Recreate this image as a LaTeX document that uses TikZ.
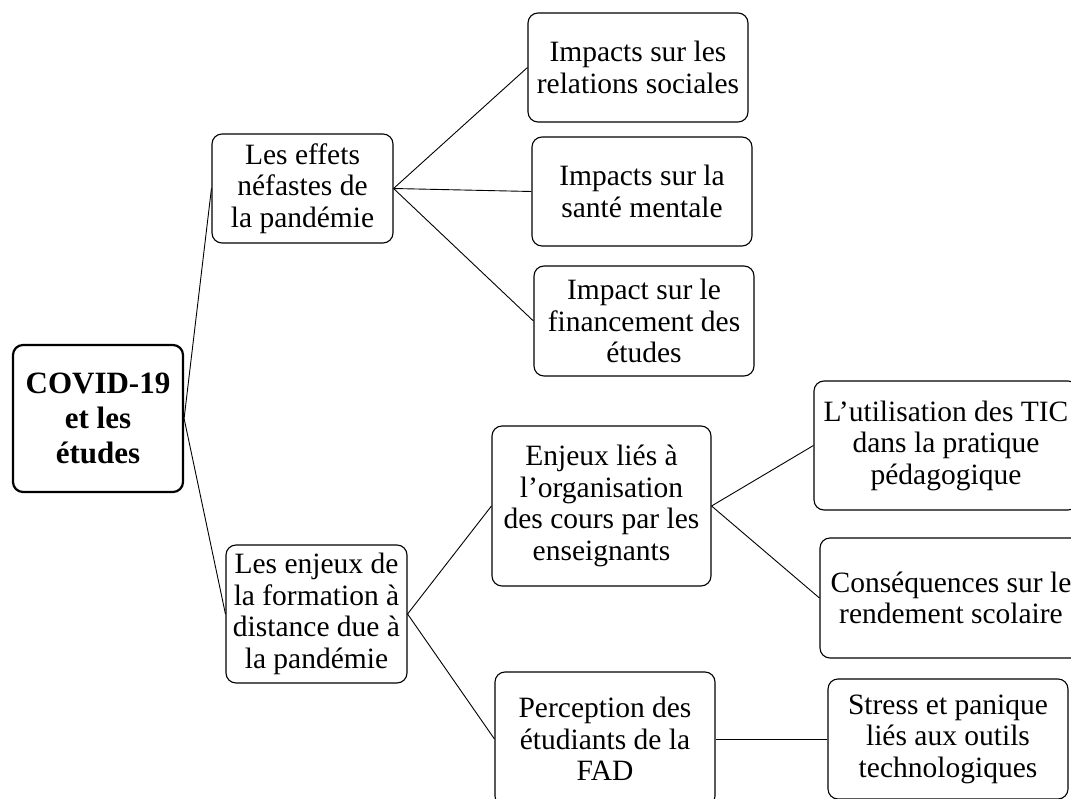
\documentclass[tikz,border=0pt]{standalone}
\usepackage{fontspec}
\setmainfont{Liberation Serif}
\begin{document}
\begin{tikzpicture}[x=1pt,y=-1pt,
  box/.style={draw, rounded corners=10pt, line width=1.1pt, align=center,
    inner sep=0pt, font=\fontsize{29.5}{31.5}\selectfont},
  rootbox/.style={box, line width=2.2pt, font=\fontsize{31}{35}\selectfont\bfseries},
  link/.style={line width=0.9pt}]
\useasboundingbox (0,0) rectangle (1071,799);
\clip (0,0) rectangle (1071,799);

% root of the tree
\node[rootbox, minimum width=170, minimum height=147] (root) at (98,418.5)
  {COVID-19\\et les\\études};

% first branch: harmful effects
\node[box, minimum width=181, minimum height=109] (effets) at (302.5,188.5)
  {Les effets\\néfastes de\\la pandémie};
\node[box, minimum width=220, minimum height=109] (relations) at (638,67.5)
  {Impacts sur les\\relations sociales};
\node[box, minimum width=220, minimum height=109] (sante) at (642,191.5)
  {Impacts sur la\\santé mentale};
\node[box, minimum width=220, minimum height=110] (finance) at (644,321)
  {Impact sur le\\financement des\\études};

% second branch: distance learning
\node[box, minimum width=181, minimum height=138] (enjeux) at (316.5,614)
  {Les enjeux de\\la formation à\\distance due à\\la pandémie};
\node[box, minimum width=219, minimum height=160] (orga) at (601.5,506)
  {Enjeux liés à\\l’organisation\\des cours par les\\enseignants};
\node[box, minimum width=220, minimum height=134] (perception) at (605,739)
  {Perception des\\étudiants de la\\FAD};
\node[box, minimum width=264, minimum height=129] (tic) at (946,445.5)
  {L’utilisation des TIC\\dans la pratique\\pédagogique};
\node[box, minimum width=262, minimum height=120] (rendement) at (951,598)
  {Conséquences sur le\\rendement scolaire};
\node[box, minimum width=240, minimum height=120] (stress) at (948,739)
  {Stress et panique\\liés aux outils\\technologiques};

% connectors
\draw[link] (root.east) -- (effets.west);
\draw[link] (root.east) -- (enjeux.west);
\draw[link] (effets.east) -- (relations.west);
\draw[link] (effets.east) -- (sante.west);
\draw[link] (effets.east) -- (finance.west);
\draw[link] (enjeux.east) -- (orga.west);
\draw[link] (enjeux.east) -- (perception.west);
\draw[link] (orga.east) -- (tic.west);
\draw[link] (orga.east) -- (rendement.west);
\draw[link] (perception.east) -- (stress.west);
\end{tikzpicture}
\end{document}
